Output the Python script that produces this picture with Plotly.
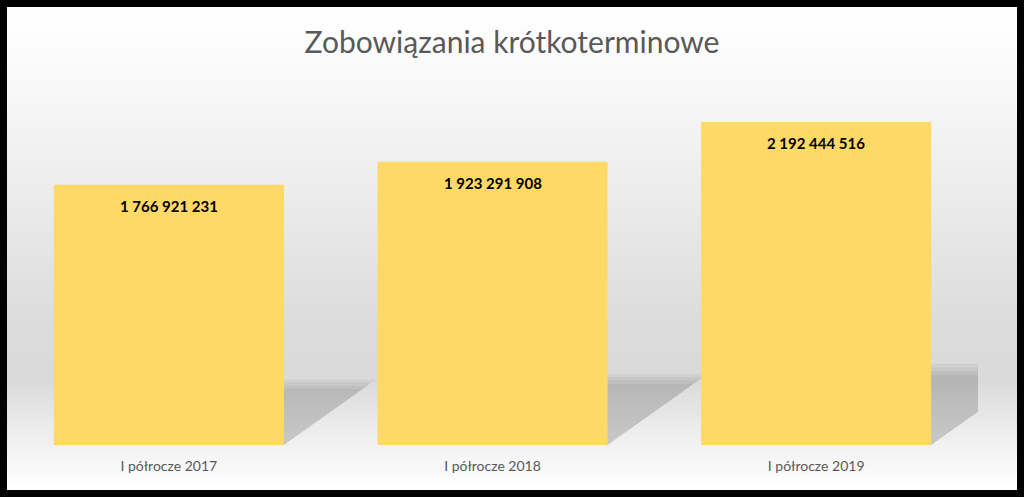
import numpy as np
import plotly.graph_objects as go

# dane
categories = ["I półrocze 2017", "I półrocze 2018", "I półrocze 2019"]
values = [1766921231, 1923291908, 2192444516]
title_text = "Zobowiązania krótkoterminowe"

W, H = 1024, 497
# plot area in pixels
PL, PR, PT, PB = 7, 978, 90, 445
YMAX = 2.41e9
BAR_W = 0.711

def px_x(px):
    return (px - PL) / (PR - PL)

def px_y(py):
    return (PB - py) / (PB - PT)

fig = go.Figure()

# background gradient (white -> gray -> white), drawn as thin strips
stops_y = [7, 60, 200, 330, 380, 445, 490]
stops_c = [255, 251, 235, 219, 218, 242, 255]
shapes = []
ys = np.arange(7, 490, 3)
for y0 in ys:
    y1 = min(y0 + 3, 490)
    c = int(round(np.interp((y0 + y1) / 2, stops_y, stops_c)))
    shapes.append(dict(type="rect", xref="paper", yref="paper", layer="below",
                       x0=px_x(7), x1=px_x(1017), y0=px_y(y1), y1=px_y(y0),
                       fillcolor=f"rgb({c},{c},{c})", line_width=0))

# soft shadows behind the bars (layered paths, below the bars)
for i, v in enumerate(values):
    a, b = i - BAR_W / 2, i + BAR_W / 2
    for s in [-0.08, -0.03, 0.02, 0.07]:
        dx = 0.1505 * v / 1e9 * (1 + s)
        hy = 0.235 * v * (1 + s)
        path = f"M {a},0 L {b},0 L {b + dx},{hy} L {a + dx},{hy} Z"
        shapes.append(dict(type="path", xref="x", yref="y", layer="below",
                           path=path, fillcolor="rgba(0,0,0,0.045)", line_width=0))

fig.add_trace(go.Bar(
    x=list(range(len(categories))), y=values, width=BAR_W,
    marker=dict(color="#FFD966", line_width=0), showlegend=False,
    hoverinfo="skip"))

for i, v in enumerate(values):
    fig.add_annotation(x=i, y=v, yshift=-21, showarrow=False,
                       text="<b>" + f"{v:,}".replace(",", " ") + "</b>",
                       font=dict(family="Lato", size=15, color="#000000"))

fig.update_layout(
    width=W, height=H,
    margin=dict(l=PL, r=W - PR, t=PT, b=H - PB),
    paper_bgcolor="#000000",
    plot_bgcolor="rgba(0,0,0,0)",
    shapes=shapes,
    title=dict(text=title_text, x=0.5, xanchor="center", xref="container",
               y=1 - 42 / H, yanchor="middle", yref="container",
               font=dict(family="Lato", size=30, color="#595959")),
    xaxis=dict(range=[-0.5, 2.5], tickvals=list(range(len(categories))),
               ticktext=categories, showgrid=False, zeroline=False,
               showline=False, ticks="", ticklabelstandoff=11,
               tickfont=dict(family="Lato", size=14, color="#595959")),
    yaxis=dict(range=[0, YMAX], visible=False, showgrid=False),
)

fig.write_html("out.html", config={"displayModeBar": False},
               post_script="document.body.style.margin='0';")
